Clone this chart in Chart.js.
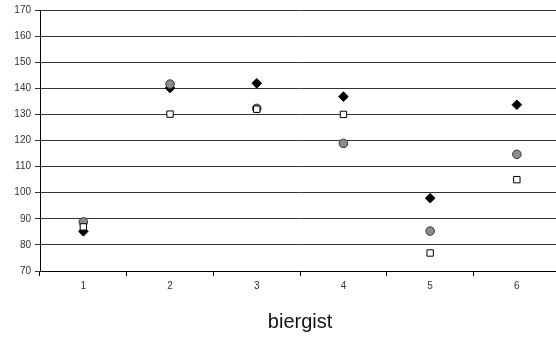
<!DOCTYPE html>
<html>
<head>
<meta charset="utf-8">
<script src="https://cdn.jsdelivr.net/npm/chart.js@4/dist/chart.umd.min.js"></script>
<style>
  html, body { margin: 0; padding: 0; background: #fff; overflow: hidden; }
  #wrap { width: 566px; height: 341px; }
</style>
</head>
<body>
<div id="wrap"><canvas id="chart" width="566" height="341"></canvas></div>
<script>
// chart data
const categories = ['1', '2', '3', '4', '5', '6'];
const diamondValues = [85.2, 140.1, 141.9, 136.8, 97.9, 133.7];
const circleValues = [88.8, 141.6, 132.3, 118.9, 85.3, 114.7];
const squareValues = [86.9, 130.1, 132.0, 130.0, 76.9, 105.0];
const yTicks = [70, 80, 90, 100, 110, 120, 130, 140, 150, 160, 170];
const axisTitle = 'biergist';

const ctx = document.getElementById('chart').getContext('2d');

new Chart(ctx, {
  type: 'line',
  data: {
    labels: categories,
    datasets: [
      {
        label: 'squares',
        data: squareValues,
        showLine: false,
        pointStyle: 'rect',
        pointRadius: 4.5,
        pointBackgroundColor: '#ffffff',
        pointBorderColor: '#000000',
        pointBorderWidth: 1
      },
      {
        label: 'circles',
        data: circleValues,
        showLine: false,
        pointStyle: 'circle',
        pointRadius: 4.3,
        pointBackgroundColor: '#8c8c8c',
        pointBorderColor: '#333333',
        pointBorderWidth: 1
      },
      {
        label: 'diamonds',
        data: diamondValues,
        showLine: false,
        pointStyle: 'rectRot',
        pointRadius: 4.8,
        pointBackgroundColor: '#000000',
        pointBorderColor: '#000000',
        pointBorderWidth: 1
      }
    ]
  },
  options: {
    responsive: false,
    animation: false,
    layout: { padding: { top: 9, right: 0, bottom: 0, left: 0 } },
    plugins: {
      legend: { display: false },
      tooltip: { enabled: false }
    },
    scales: {
      x: {
        offset: true,
        grid: {
          offset: true,
          drawOnChartArea: false,
          color: '#000',
          tickLength: 5
        },
        border: { color: '#000', width: 1 },
        ticks: {
          color: '#333',
          font: { family: 'Liberation Sans', size: 10 },
          padding: 4,
          maxRotation: 0
        },
        title: {
          display: true,
          text: axisTitle,
          color: '#111',
          font: { family: 'Liberation Sans', size: 20 },
          padding: { top: 12, bottom: 7 }
        },
        afterFit: (axis) => { axis.height = 70; }
      },
      y: {
        min: 70,
        max: 170,
        afterBuildTicks: (axis) => { axis.ticks = yTicks.map(v => ({ value: v })); },
        grid: {
          color: '#333',
          lineWidth: 1,
          tickLength: 5
        },
        border: { color: '#000', width: 1 },
        ticks: {
          color: '#333',
          font: { family: 'Liberation Sans', size: 10 },
          padding: 4
        },
        afterFit: (axis) => { axis.width = 40; }
      }
    }
  }
});
</script>
</body>
</html>
